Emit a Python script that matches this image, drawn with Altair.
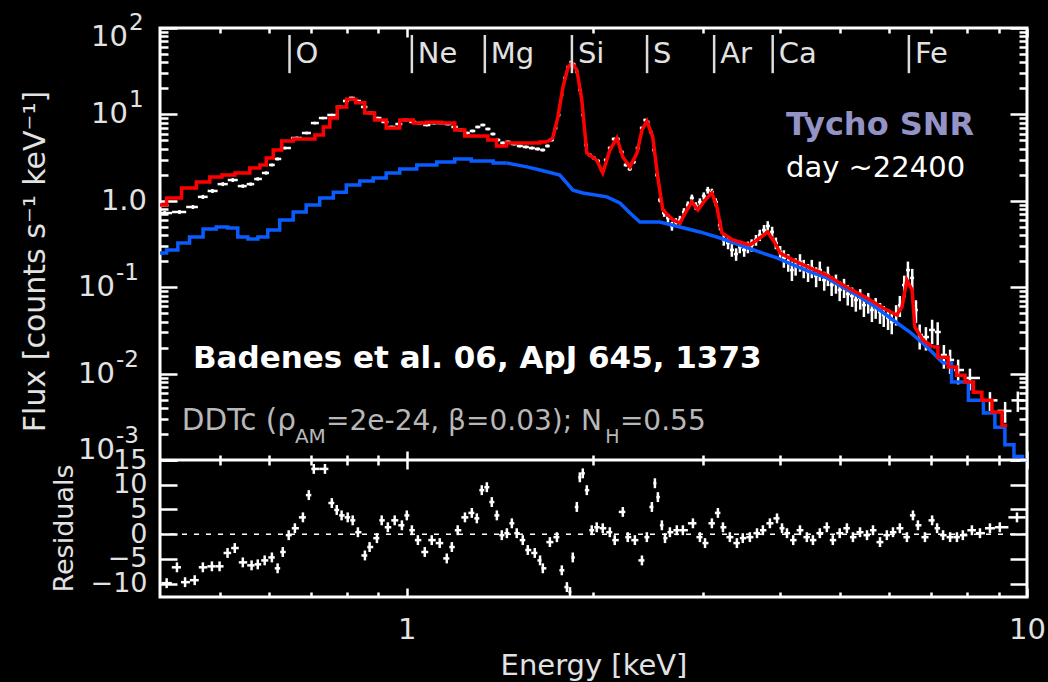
import altair as alt
import numpy as np
import pandas as pd

# ---------------------------------------------------------------------------
# Folded best-fit model (counts s^-1 keV^-1) against energy (keV)
model_e = [0.400, 0.420, 0.447, 0.469, 0.494, 0.513, 0.544, 0.573, 0.586, 0.601,
           0.617, 0.640, 0.672, 0.698, 0.724, 0.743, 0.760, 0.785, 0.815, 0.840,
           0.871, 0.904, 0.949, 1.000, 1.049, 1.101, 1.173, 1.217, 1.263, 1.326,
           1.377, 1.413, 1.483, 1.597, 1.683, 1.719, 1.752, 1.786, 1.820, 1.846,
           1.880, 1.915, 1.951, 2.024, 2.070, 2.125, 2.181, 2.230, 2.290, 2.350,
           2.394, 2.438, 2.492, 2.539, 2.587, 2.686, 2.757, 2.829, 2.882, 2.947,
           3.026, 3.104, 3.162, 3.222, 3.355, 3.574, 3.708, 3.819, 3.924, 3.999,
           4.197, 4.467, 4.756, 5.124, 5.521, 5.859, 6.167, 6.286, 6.403, 6.527,
           6.594, 6.794, 7.046, 7.323, 7.602, 7.799, 8.092, 8.300, 8.616, 8.946,
           9.285]
model_f = [0.893, 1.08, 1.41, 1.65, 1.88, 1.99, 2.10, 2.40, 2.59, 3.13,
           3.87, 4.92, 5.19, 5.19, 5.78, 7.14, 9.08, 12.2, 15.0, 13.6,
           10.4, 8.61, 6.98, 8.61, 7.94, 8.12, 7.94, 6.59, 5.62, 5.62,
           5.06, 4.31, 4.67, 4.67, 4.80, 5.33, 9.3, 20.8, 35.3, 39.3,
           32.7, 14.7, 3.57, 2.96, 2.10, 3.87, 5.33, 3.22, 2.47, 3.57,
           6.59, 8.39, 5.47, 1.88, 0.783, 0.600, 0.553, 0.783, 0.97, 0.783,
           1.02, 1.23, 0.847, 0.424, 0.352, 0.308, 0.371, 0.436, 0.325, 0.249,
           0.206, 0.167, 0.138, 0.100, 0.075, 0.0574, 0.0476, 0.0590, 0.121, 0.093,
           0.0346, 0.0245, 0.0203, 0.0155, 0.0119, 0.0096, 0.0080, 0.0061, 0.0049, 0.0036,
           0.0025]

# Continuum component of the model
cont_e = [0.400, 0.420, 0.435, 0.458, 0.481, 0.505, 0.524, 0.544, 0.565, 0.586,
          0.608, 0.640, 0.672, 0.705, 0.743, 0.780, 0.818, 0.862, 0.904, 0.949,
          1.000, 1.077, 1.160, 1.231, 1.311, 1.449, 1.562, 1.640, 1.765, 1.853,
          1.923, 2.102, 2.206, 2.290, 2.376, 2.558, 2.757, 2.969, 3.199, 3.443,
          3.708, 3.953, 4.197, 4.467, 4.756, 5.046, 5.380, 5.728, 6.080, 6.474,
          6.900, 7.323, 7.799, 8.300, 8.717, 9.038, 9.390, 9.667, 10.0]
cont_f = [0.249, 0.270, 0.325, 0.381, 0.472, 0.498, 0.484, 0.381, 0.361, 0.381,
          0.459, 0.600, 0.740, 0.893, 1.08, 1.26, 1.52, 1.69, 1.83, 2.10,
          2.33, 2.59, 2.82, 3.05, 2.89, 2.74, 2.47, 2.27, 1.99, 1.33,
          1.23, 1.11, 0.944, 0.723, 0.569, 0.569, 0.498, 0.436, 0.371, 0.308,
          0.255, 0.218, 0.181, 0.150, 0.128, 0.100, 0.077, 0.0574, 0.0417, 0.0303,
          0.0203, 0.0133, 0.0080, 0.0049, 0.0035, 0.0024, 0.00150, 0.00110, 0.00100]

# Observed spectrum: bin centre (keV), flux, 1-sigma error
obs_e = [0.407, 0.430, 0.452, 0.469, 0.486, 0.505, 0.524, 0.544, 0.560, 0.575,
         0.593, 0.606, 0.619, 0.636, 0.665, 0.690, 0.711, 0.732, 0.757, 0.780,
         0.798, 0.815, 0.834, 0.853, 0.875, 0.898, 0.922, 0.946, 0.971, 0.996,
         1.023, 1.049, 1.077, 1.106, 1.135, 1.165, 1.195, 1.222, 1.250, 1.277,
         1.302, 1.326, 1.351, 1.377, 1.402, 1.428, 1.455, 1.488, 1.521, 1.556,
         1.591, 1.626, 1.656, 1.687, 1.713, 1.739, 1.759, 1.778, 1.798, 1.819,
         1.840, 1.859, 1.881, 1.902, 1.923, 1.944, 1.973, 2.003, 2.033, 2.063,
         2.094, 2.125, 2.156, 2.188, 2.221, 2.254, 2.288, 2.322, 2.357, 2.394,
         2.421, 2.448, 2.475, 2.502, 2.530, 2.558, 2.600, 2.637, 2.676, 2.716,
         2.757, 2.798, 2.839, 2.882, 2.924, 2.969, 3.012, 3.057, 3.104, 3.149,
         3.199, 3.244, 3.296, 3.343, 3.396, 3.443, 3.499, 3.548, 3.597, 3.656,
         3.708, 3.767, 3.819, 3.882, 3.936, 3.999, 4.055, 4.121, 4.178, 4.236,
         4.305, 4.365, 4.436, 4.498, 4.571, 4.634, 4.710, 4.775, 4.842, 4.920,
         4.989, 5.070, 5.140, 5.224, 5.297, 5.383, 5.458, 5.546, 5.623, 5.702,
         5.794, 5.875, 5.970, 6.053, 6.151, 6.237, 6.339, 6.427, 6.531, 6.622,
         6.714, 6.871, 7.031, 7.178, 7.345, 7.516, 7.744, 8.091, 8.715, 9.220,
         9.666]
obs_f = [0.722, 0.742, 0.848, 1.11, 1.30, 1.56, 1.74, 1.48, 1.56, 1.79,
         2.10, 2.60, 3.05, 4.08, 5.33, 6.09, 7.94, 9.08, 9.84, 12.2,
         14.3, 15.5, 14.3, 12.2, 10.4, 9.08, 8.17, 7.15, 7.74, 8.61,
         8.17, 7.94, 7.54, 7.94, 7.94, 7.74, 7.15, 6.60, 6.09, 6.43,
         7.15, 7.54, 6.78, 5.93, 5.06, 4.67, 4.80, 4.54, 4.31, 4.20,
         4.08, 3.98, 3.87, 4.31, 5.06, 6.96, 9.84, 16.8, 26.4, 35.4,
         40.4, 38.3, 31.0, 19.2, 9.84, 4.43, 3.39, 3.13, 2.89, 2.27,
         2.97, 4.08, 5.19, 5.19, 3.67, 2.60, 2.33, 2.81, 4.08, 6.96,
         8.61, 8.17, 6.25, 3.87, 1.99, 1.02, 0.722, 0.632, 0.511, 0.569,
         0.600, 0.742, 0.893, 1.08, 0.871, 0.968, 1.14, 1.33, 1.26, 0.968,
         0.525, 0.352, 0.325, 0.270, 0.242, 0.292, 0.270, 0.292, 0.308, 0.352,
         0.402, 0.459, 0.511, 0.436, 0.325, 0.255, 0.218, 0.196, 0.158, 0.176,
         0.196, 0.167, 0.150, 0.167, 0.135, 0.158, 0.121, 0.138, 0.106, 0.112,
         0.0929, 0.100, 0.0834, 0.0791, 0.0711, 0.0750, 0.0622, 0.0675, 0.0545, 0.0590,
         0.0516, 0.0476, 0.0440, 0.0395, 0.0490, 0.0622, 0.106, 0.158, 0.128, 0.0545,
         0.0280, 0.0265, 0.0320, 0.0303, 0.0164, 0.0144, 0.0110, 0.0089, 0.0049, 0.0037,
         0.0049]
obs_err = [0.04, 0.04, 0.045, 0.06, 0.07, 0.08, 0.09, 0.07, 0.07, 0.08,
           0.09, 0.1, 0.12, 0.15, 0.2, 0.22, 0.28, 0.3, 0.33, 0.4,
           0.45, 0.5, 0.45, 0.4, 0.35, 0.3, 0.28, 0.25, 0.27, 0.3,
           0.28, 0.28, 0.26, 0.28, 0.28, 0.27, 0.25, 0.24, 0.22, 0.23,
           0.25, 0.26, 0.24, 0.22, 0.19, 0.18, 0.18, 0.17, 0.17, 0.16,
           0.16, 0.16, 0.15, 0.17, 0.19, 0.25, 0.35, 0.55, 0.8, 1.0,
           1.1, 1.1, 0.9, 0.6, 0.35, 0.17, 0.14, 0.13, 0.12, 0.1,
           0.12, 0.16, 0.2, 0.2, 0.15, 0.11, 0.1, 0.12, 0.16, 0.25,
           0.3, 0.28, 0.23, 0.15, 0.09, 0.06, 0.07, 0.07, 0.06, 0.06,
           0.07, 0.08, 0.09, 0.1, 0.09, 0.1, 0.11, 0.12, 0.12, 0.1,
           0.07, 0.05, 0.05, 0.045, 0.04, 0.045, 0.045, 0.045, 0.05, 0.05,
           0.06, 0.065, 0.07, 0.065, 0.05, 0.045, 0.05, 0.045, 0.04, 0.04,
           0.045, 0.04, 0.035, 0.04, 0.035, 0.04, 0.03, 0.035, 0.027, 0.028,
           0.024, 0.025, 0.022, 0.02, 0.019, 0.02, 0.017, 0.018, 0.015, 0.016,
           0.014, 0.013, 0.012, 0.011, 0.013, 0.017, 0.03, 0.04, 0.035, 0.016,
           0.009, 0.008, 0.01, 0.009, 0.005, 0.0045, 0.0035, 0.0025, 0.0012, 0.001,
           0.0013]

# Residuals, (data - model) / sigma
res_e = [0.410, 0.426, 0.439, 0.455, 0.469, 0.485, 0.499, 0.514, 0.528, 0.544,
         0.562, 0.575, 0.590, 0.606, 0.619, 0.631, 0.645, 0.660, 0.680, 0.695,
         0.708, 0.738, 0.757, 0.771, 0.785, 0.803, 0.818, 0.834, 0.856, 0.871,
         0.895, 0.911, 0.932, 0.956, 0.982, 1.000, 1.019, 1.042, 1.069, 1.097,
         1.130, 1.160, 1.182, 1.208, 1.241, 1.273, 1.297, 1.321, 1.346, 1.371,
         1.397, 1.423, 1.450, 1.477, 1.504, 1.538, 1.567, 1.608, 1.640, 1.657,
         1.701, 1.746, 1.778, 1.812, 1.833, 1.852, 1.880, 1.901, 1.922, 1.951,
         1.987, 2.024, 2.070, 2.125, 2.164, 2.230, 2.271, 2.332, 2.394, 2.438,
         2.484, 2.512, 2.540, 2.578, 2.608, 2.656, 2.725, 2.787, 2.893, 2.969,
         3.026, 3.104, 3.174, 3.234, 3.318, 3.406, 3.481, 3.574, 3.670, 3.751,
         3.850, 3.953, 4.027, 4.102, 4.198, 4.305, 4.416, 4.517, 4.634, 4.756,
         4.863, 4.989, 5.124, 5.240, 5.380, 5.521, 5.645, 5.794, 5.943, 6.080,
         6.237, 6.403, 6.548, 6.670, 6.846, 7.031, 7.162, 7.323, 7.516, 7.709,
         7.880, 8.150, 8.398, 8.715, 9.040, 9.635]
res_r = [-9.9, -6.7, -9.7, -9.3, -6.7, -6.5, -6.5, -3.8, -2.8, -5.7,
         -6.3, -6.1, -5.3, -4.7, -6.9, -3.6, -0.2, 1.2, 3.4, 7.9,
         13.2, 13.2, 6.3, 4.9, 3.8, 3.4, 2.8, 0.4, -4.3, -2.6,
         -0.8, 2.8, 1.4, 2.8, 1.8, 3.8, 0.8, -1.2, -3.6, -1.2,
         -1.8, -4.9, -2.6, 0.8, 3.4, 4.3, 3.2, 8.9, 9.5, 6.5,
         3.8, -0.2, 0.2, 2.2, 0.2, -1.2, -3.2, -3.8, -5.3, -6.9,
         -1.6, -0.6, -7.3, -10.7, -11.7, -4.7, 5.5, 11.5, 12.3, 8.9,
         0.8, 1.4, 1.2, 0.4, -1.2, 4.5, -0.6, -1.2, -5.3, -0.6,
         5.5, 10.3, 7.5, 1.8, -0.8, 0.4, 0.8, 0.8, 2.2, -0.6,
         -1.8, 2.2, 4.3, 1.4, -0.6, -1.8, -0.8, -0.6, 0.2, 0.8,
         2.2, 3.2, 1.2, 0.2, -1.2, 0.8, -0.6, -1.2, 0.2, 1.4,
         -1.2, 0.2, 1.2, -0.6, 0.4, -0.2, 0.8, -1.6, -0.2, 0.4,
         1.2, -0.6, 3.8, 1.8, -0.6, 2.8, 1.2, -0.2, -0.6, -0.6,
         -0.2, 0.8, 0.2, 1.2, 1.4, 3.4]
RES_SIGMA = 1.0

# Emission-line identifications
line_e = [0.647, 1.019, 1.336, 1.846, 2.44, 3.13, 3.89, 6.45]
line_name = ["O", "Ne", "Mg", "Si", "S", "Ar", "Ca", "Fe"]

# Axis tick values and labels
flux_ticks = [100, 10, 1, 0.1, 0.01, 0.001]
flux_tick_base = ["10", "10", "1.0", "10", "10", "10"]
flux_tick_exp = ["2", "1", "", "-1", "-2", "-3"]
flux_minor = [m * 10.0 ** k for k in range(-3, 2) for m in range(2, 10)]
res_ticks = [-10, -5, 0, 5, 10, 15]
energy_major = [1, 10]
energy_minor = [0.5, 0.6, 0.7, 0.8, 0.9, 2, 3, 4, 5, 6, 7, 8, 9]

# ---------------------------------------------------------------------------
W, H, H_TOP = 867, 569, 432
FONT = "DejaVu Sans"
INK = "#e2e2e2"
GREY = "#b8b8b8"
RED, BLUE = "#ff0000", "#0a5cff"

xs = alt.Scale(type="log", domain=[0.4, 10], range=[0, W], nice=False)
ys_f = alt.Scale(type="log", domain=[1e-3, 1e2], range=[H_TOP, 0], nice=False)
ys_r = alt.Scale(type="linear", domain=[-12.7, 15], range=[H, H_TOP],
                 nice=False, zero=False)


def edges(centres, lo_lim=0.4, hi_lim=10.0):
    c = np.asarray(centres, dtype=float)
    mid = np.sqrt(c[1:] * c[:-1])
    lo = np.concatenate([[c[0] ** 2 / mid[0]], mid])
    hi = np.concatenate([mid, [c[-1] ** 2 / mid[-1]]])
    return np.clip(lo, lo_lim, hi_lim), np.clip(hi, lo_lim, hi_lim)


df_obs = pd.DataFrame({"e": obs_e, "f": obs_f, "err": obs_err})
df_obs["lo"], df_obs["hi"] = edges(obs_e)
df_obs["flo"] = df_obs["f"] - df_obs["err"]
df_obs["fhi"] = df_obs["f"] + df_obs["err"]

df_res = pd.DataFrame({"e": res_e, "r": res_r})
df_res["lo"], df_res["hi"] = edges(res_e)
df_res["rlo"] = df_res["r"] - RES_SIGMA
df_res["rhi"] = df_res["r"] + RES_SIGMA

df_model = pd.DataFrame({"e": model_e, "f": model_f})
df_cont = pd.DataFrame({"e": cont_e, "f": cont_f})


def ex(field):
    return alt.X(field, scale=xs, axis=None)


def yf(field):
    return alt.Y(field, scale=ys_f, axis=None)


def yr(field):
    return alt.Y(field, scale=ys_r, axis=None)


def histo(df, colour, smooth_from, smooth_to):
    """Binned curve: stepped where channels are wide, joined where they are fine."""
    parts = [
        (df[df["e"] <= smooth_from], "step"),
        (df[(df["e"] >= smooth_from) & (df["e"] <= smooth_to)], "linear"),
        (df[df["e"] >= smooth_to], "step"),
    ]
    return [alt.Chart(part).mark_line(
        interpolate=interp, color=colour, strokeWidth=3.5).encode(
        x=ex("e:Q"), y=yf("f:Q")) for part, interp in parts]


layers = []

# --- spectrum panel --------------------------------------------------------
layers.append(alt.Chart(df_obs).mark_rule(color="white", strokeWidth=2.5).encode(
    x=ex("lo:Q"), x2="hi:Q", y=yf("f:Q")))
layers.append(alt.Chart(df_obs).mark_rule(color="white", strokeWidth=2.5).encode(
    x=ex("e:Q"), y=yf("flo:Q"), y2="fhi:Q"))
layers += histo(df_cont, BLUE, 1.449, 7.323)
layers += histo(df_model, RED, 1.683, 7.046)

# line markers along the top
MARK_LO, MARK_HI, MARK_TEXT = 30.0, 83.0, 39.4
df_lines = pd.DataFrame({"e": line_e, "name": line_name})
df_lines["lo"] = MARK_LO
df_lines["hi"] = MARK_HI
df_lines["ty"] = MARK_TEXT
layers.append(alt.Chart(df_lines).mark_rule(color="#dcdcdc", strokeWidth=2.5).encode(
    x=ex("e:Q"), y=yf("lo:Q"), y2="hi:Q"))
layers.append(alt.Chart(df_lines).mark_text(
    align="left", baseline="alphabetic", dx=6, font=FONT, fontSize=29,
    color=INK).encode(x=ex("e:Q"), y=yf("ty:Q"), text="name:N"))

# annotations
notes = [
    ("Badenes et al. 06, ApJ 645, 1373", 0.452, 0.0116, 31, "bold", "white"),
    ("Tycho SNR", 4.087, 5.78, 32, "bold", "#9393c6"),
    ("day ~22400", 4.087, 1.886, 29, "normal", "white"),
    ("DDTc (ρ", 0.4336, 0.00222, 29.5, "normal", GREY),
    ("AM", 0.660, 0.00157, 20, "normal", GREY),
    ("=2e-24, β=0.03); N", 0.741, 0.00222, 28, "normal", GREY),
    ("H", 2.090, 0.00157, 19, "normal", GREY),
    ("=0.55", 2.206, 0.00222, 28, "normal", GREY),
]
for text, e, f, size, weight, colour in notes:
    layers.append(alt.Chart(pd.DataFrame({"e": [e], "f": [f], "t": [text]})).mark_text(
        align="left", baseline="alphabetic", font=FONT, fontSize=size,
        fontWeight=weight, color=colour).encode(
        x=ex("e:Q"), y=yf("f:Q"), text="t:N"))

# flux tick labels written as 10 with a raised exponent
df_fl = pd.DataFrame({"f": flux_ticks, "base": flux_tick_base, "sup": flux_tick_exp})
df_fl["bx"] = [-13 if s == "" else (-45 if len(s) > 1 else -32) for s in flux_tick_exp]
df_fl["sx"] = df_fl["bx"] + 1
nudge = {100: 9, 0.001: -10}
df_fl["ny"] = [nudge.get(v, 0) for v in flux_ticks]
for ny, grp in df_fl.groupby("ny"):
    layers.append(alt.Chart(grp).mark_text(
        align="right", baseline="middle", dy=int(ny), font=FONT, fontSize=29,
        color=INK).encode(
        x=alt.X("bx:Q", scale=None), y=yf("f:Q"), text="base:N"))
    sup = grp[grp["sup"] != ""]
    if len(sup):
        layers.append(alt.Chart(sup).mark_text(
            align="left", baseline="middle", dy=int(ny) - 14, font=FONT,
            fontSize=23, color=INK).encode(
            x=alt.X("sx:Q", scale=None), y=yf("f:Q"), text="sup:N"))

# --- residual panel --------------------------------------------------------
layers.append(alt.Chart(pd.DataFrame({"r": [0.0]})).mark_rule(
    color="white", strokeWidth=1.5, strokeDash=[5, 7]).encode(y=yr("r:Q")))
layers.append(alt.Chart(pd.DataFrame({"r": [15.0]})).mark_rule(
    color="white", strokeWidth=3).encode(y=yr("r:Q")))
layers.append(alt.Chart(df_res).mark_rule(color="white", strokeWidth=2.5).encode(
    x=ex("lo:Q"), x2="hi:Q", y=yr("r:Q")))
layers.append(alt.Chart(df_res).mark_rule(color="white", strokeWidth=2.5).encode(
    x=ex("e:Q"), y=yr("rlo:Q"), y2="rhi:Q"))

# --- axes ------------------------------------------------------------------
anchor = pd.DataFrame({"e": [1.0], "f": [1.0], "r": [0.0]})
TICK = dict(tickColor="white", tickWidth=2.5, labels=False, domain=False,
            grid=False, title=None)


def x_ticks(values, size, orient, offset):
    return alt.Chart(anchor).mark_point(opacity=0).encode(
        x=alt.X("e:Q", scale=xs, axis=alt.Axis(
            orient=orient, offset=offset, values=values, tickSize=size, **TICK)),
        y=yf("f:Q"))


def y_ticks(scale, field, values, size, orient):
    return alt.Chart(anchor).mark_point(opacity=0).encode(
        x=ex("e:Q"),
        y=alt.Y(field, scale=scale, axis=alt.Axis(
            orient=orient, offset=-W, values=values, tickSize=size, **TICK)))


for orient, offset in [("bottom", -H), ("top", -H_TOP),
                       ("bottom", -(H - H_TOP)), ("top", -H)]:
    layers.append(x_ticks(energy_minor, 5, orient, offset))
    layers.append(x_ticks(energy_major, 9, orient, offset))

for orient in ["right", "left"]:
    layers.append(y_ticks(ys_f, "f:Q", flux_ticks, 17, orient))
    layers.append(y_ticks(ys_f, "f:Q", flux_minor, 8, orient))
    layers.append(y_ticks(ys_r, "r:Q", res_ticks, 17, orient))

# energy labels and title
layers.append(alt.Chart(anchor).mark_point(opacity=0).encode(
    x=alt.X("e:Q", scale=xs, axis=alt.Axis(
        orient="bottom", values=energy_major, ticks=False, tickSize=0,
        domain=False, grid=False, labelPadding=18, labelFont=FONT,
        labelFontSize=29, labelColor=INK, labelFlush=False, labelOverlap=False,
        labelExpr="datum.value < 5 ? '1' : '10'",
        title="Energy [keV]", titleFont=FONT, titleFontSize=29,
        titleFontWeight="normal", titleColor=INK, titleY=68,
        titleBaseline="middle")),
    y=yf("f:Q")))

# flux axis title
layers.append(alt.Chart(anchor).mark_point(opacity=0).encode(
    x=ex("e:Q"),
    y=alt.Y("f:Q", scale=ys_f, axis=alt.Axis(
        orient="left", labels=False, ticks=False, domain=False, grid=False,
        title="Flux [counts s⁻¹ keV⁻¹]", titleFont=FONT, titleFontSize=30,
        titleFontWeight="normal", titleColor=INK, titleAngle=270,
        titleAlign="center", titleBaseline="middle", titleX=-125, titleY=233))))

# residual labels and title
layers.append(alt.Chart(anchor).mark_point(opacity=0).encode(
    x=ex("e:Q"),
    y=alt.Y("r:Q", scale=ys_r, axis=alt.Axis(
        orient="left", values=res_ticks, ticks=False, tickSize=0, domain=False,
        grid=False, labelPadding=13, labelFont=FONT, labelFontSize=27,
        labelColor=INK, labelOverlap=False, labelFlush=False,
        title="Residuals", titleFont=FONT, titleFontSize=27,
        titleFontWeight="normal", titleColor=INK, titleAngle=270,
        titleAlign="center", titleBaseline="middle", titleX=-96, titleY=500))))

chart = alt.layer(*layers).resolve_scale(
    x="independent", y="independent"
).properties(
    width=W, height=H, background="black",
    autosize=alt.AutoSizeParams(type="none"),
    padding={"left": 160, "top": 28, "right": 21, "bottom": 85},
).configure_view(stroke="white", strokeWidth=3)

chart.save("out.html", embed_options={"renderer": "svg", "actions": False})
